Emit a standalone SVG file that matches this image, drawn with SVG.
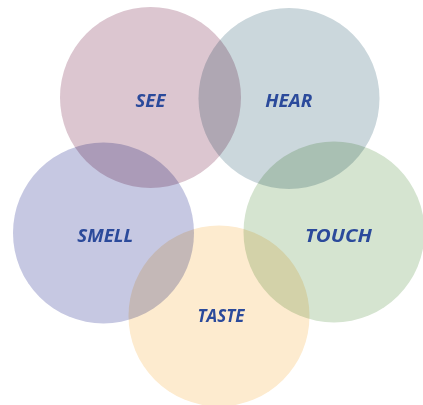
<svg xmlns="http://www.w3.org/2000/svg" width="423" height="405" viewBox="0 0 423 405">
<style>
.c{mix-blend-mode:multiply}
.t{font-family:"Open Sans","Noto Sans",sans-serif;font-weight:700;font-style:italic;font-size:17.5px;fill:#2b4a9b;text-anchor:middle}
</style>
<rect width="423" height="405" fill="#ffffff"/>
<g id="see"><circle class="c" cx="150.5" cy="97.5" r="90.5" fill="#dcc6d0"/></g>
<g id="hear"><circle class="c" cx="289" cy="98.5" r="90.5" fill="#cbd7dc"/></g>
<g id="smell"><circle class="c" cx="103.5" cy="233" r="90.5" fill="#c6c8e2"/></g>
<g id="touch"><circle class="c" cx="334" cy="232" r="90.5" fill="#d5e4d0"/></g>
<g id="taste"><circle class="c" cx="219" cy="316" r="90.5" fill="#fdebcf"/></g>
<g id="labels">
<text class="t" x="150.5" y="107" textLength="30" lengthAdjust="spacingAndGlyphs">SEE</text>
<text class="t" x="288.8" y="107" textLength="47" lengthAdjust="spacingAndGlyphs">HEAR</text>
<text class="t" x="105.3" y="241.5" textLength="56" lengthAdjust="spacingAndGlyphs">SMELL</text>
<text class="t" x="338.4" y="241.5" textLength="67" lengthAdjust="spacingAndGlyphs">TOUCH</text>
<text class="t" x="221" y="321.5" textLength="47" lengthAdjust="spacingAndGlyphs">TASTE</text>
</g>
<g id="connectors"></g>
</svg>
